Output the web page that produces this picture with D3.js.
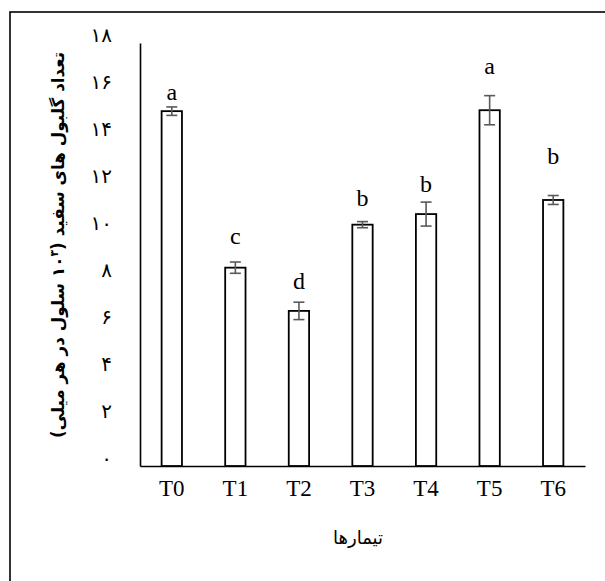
<!DOCTYPE html>
<html>
<head>
<meta charset="utf-8">
<script src="https://cdn.jsdelivr.net/npm/d3@7"></script>
<style>
  html, body { margin: 0; padding: 0; background: #fff; }
  svg { display: block; }
</style>
</head>
<body>
<svg id="chart" width="605" height="581"></svg>
<script>
// Treatments, mean white blood cell counts (×10³ per ml), standard errors, group letters
const treatments = ["T0", "T1", "T2", "T3", "T4", "T5", "T6"];
const means = [15.1, 8.44, 6.6, 10.27, 10.72, 15.14, 11.32];
const errors = [0.18, 0.24, 0.37, 0.13, 0.51, 0.62, 0.19];
const letters = ["a", "c", "d", "b", "b", "a", "b"];
const yTicks = [0, 2, 4, 6, 8, 10, 12, 14, 16, 18];

const svg = d3.select("#chart");
const faDigits = "۰۱۲۳۴۵۶۷۸۹";
const toFa = n => String(n).replace(/\d/g, d => faDigits[+d]);

// frame around the figure
svg.append("rect")
  .attr("x", 10).attr("y", 12)
  .attr("width", 620).attr("height", 620)
  .attr("fill", "none").attr("stroke", "#000").attr("stroke-width", 1.6);

const x = d3.scaleBand()
  .domain(treatments)
  .range([140, 585])
  .paddingInner(0.68)
  .paddingOuter(0.34);

const y = d3.scaleLinear().domain([0, 18]).range([466, 43]);

// y axis: line plus Persian-numeral labels, no tick marks
const yAxis = d3.axisLeft(y).tickValues(yTicks).tickSize(0).tickPadding(28).tickFormat(toFa);
const gy = svg.append("g").attr("transform", "translate(140,0)").call(yAxis);
gy.select(".domain").attr("stroke", "#000").attr("stroke-width", 1.6);
gy.selectAll("text")
  .attr("font-family", "DejaVu Sans")
  .attr("font-size", 20)
  .attr("fill", "#000")
  .attr("dy", "-0.1em");

// x axis
const xAxis = d3.axisBottom(x).tickSize(0).tickPadding(14);
const gx = svg.append("g").attr("transform", "translate(0,466)").call(xAxis);
gx.select(".domain").attr("stroke", "#000").attr("stroke-width", 1.6);
gx.selectAll("text")
  .attr("font-family", "Liberation Serif")
  .attr("font-size", 23)
  .attr("fill", "#000");

// bars
svg.append("g").selectAll("rect")
  .data(treatments)
  .join("rect")
  .attr("x", d => x(d))
  .attr("y", (d, i) => y(means[i]))
  .attr("width", x.bandwidth())
  .attr("height", (d, i) => y(0) - y(means[i]))
  .attr("fill", "#fff")
  .attr("stroke", "#000")
  .attr("stroke-width", 1.8);

// error bars
const eb = svg.append("g").attr("stroke", "#595959").attr("stroke-width", 1.6);
const capHalf = 5.5;
treatments.forEach((t, i) => {
  const cx = x(t) + x.bandwidth() / 2;
  const top = y(means[i] + errors[i]);
  const bot = y(means[i] - errors[i]);
  eb.append("line").attr("x1", cx).attr("x2", cx).attr("y1", top).attr("y2", bot);
  eb.append("line").attr("x1", cx - capHalf).attr("x2", cx + capHalf).attr("y1", top).attr("y2", top);
  eb.append("line").attr("x1", cx - capHalf).attr("x2", cx + capHalf).attr("y1", bot).attr("y2", bot);
});

// significance letters, lifted above each error bar
const letterLift = [7, 18, 13, 16, 10, 22, 32];
svg.append("g").selectAll("text")
  .data(treatments)
  .join("text")
  .attr("x", d => x(d) + x.bandwidth() / 2)
  .attr("y", (d, i) => y(means[i] + errors[i]) - letterLift[i])
  .attr("text-anchor", "middle")
  .attr("font-family", "Liberation Serif")
  .attr("font-size", 24)
  .attr("fill", "#000")
  .text((d, i) => letters[i]);

// y-axis title (rotated, right-to-left)
const yt = svg.append("text")
  .attr("transform", "translate(64,245) rotate(-90)")
  .attr("text-anchor", "middle")
  .attr("direction", "rtl")
  .attr("font-family", "DejaVu Sans")
  .attr("font-weight", "bold")
  .attr("font-size", 16.8)
  .attr("fill", "#000");
yt.append("tspan").text("تعداد گلبول های سفید (۱۰");
yt.append("tspan").attr("baseline-shift", "super").attr("font-size", 11).text("۳");
yt.append("tspan").text(" سلول در هر میلی)");

// x-axis title
svg.append("text")
  .attr("x", 358).attr("y", 544)
  .attr("text-anchor", "middle")
  .attr("direction", "rtl")
  .attr("font-family", "DejaVu Sans")
  .attr("font-size", 18)
  .attr("fill", "#000")
  .text("تیمارها");
</script>
</body>
</html>
